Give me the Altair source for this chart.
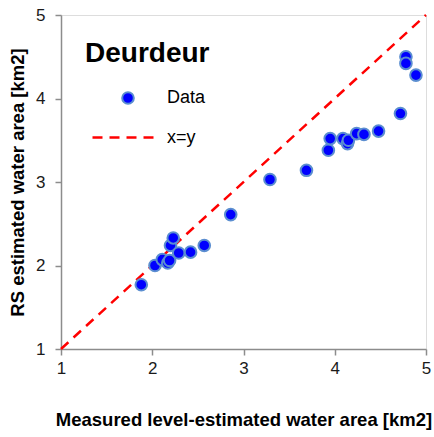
import altair as alt
import pandas as pd

measured = [1.88, 2.03, 2.11, 2.17, 2.19, 2.20, 2.23, 2.29, 2.42, 2.57, 2.86, 3.29,
            3.69, 3.93, 3.95, 4.09, 4.14, 4.15, 4.24, 4.32, 4.48, 4.72, 4.78, 4.78, 4.89]
rs = [1.77, 2.00, 2.07, 2.03, 2.06, 2.24, 2.33, 2.15, 2.16, 2.24, 2.61, 3.03,
      3.14, 3.38, 3.52, 3.52, 3.46, 3.50, 3.58, 3.57, 3.61, 3.82, 4.50, 4.42, 4.28]
line_x = [1, 5]
line_y = [1, 5]
title_text = ["Deurdeur"]

pts = pd.DataFrame({"x": measured, "y": rs, "series": "Data"})
ref = pd.DataFrame({"x": line_x, "y": line_y, "series": "x=y"})
ttl = pd.DataFrame({"t": title_text})

FONT = "Liberation Sans"

xscale = alt.Scale(domain=[1, 5], nice=False)
yscale = alt.Scale(domain=[1, 5], nice=False)

common = dict(values=[1, 2, 3, 4, 5], format="d", grid=False, tickSize=6,
              labelFontSize=17, labelFont=FONT, labelColor="#1a1a1a",
              labelFlush=False, labelOverlap=False,
              domainColor="#8c8c8c", domainWidth=1.5, tickColor="#8c8c8c", tickWidth=1.5,
              titleFont=FONT, titleFontSize=18.5, titleFontWeight="bold", titleColor="#000",
              titleBaseline="alphabetic")

xaxis = alt.Axis(labelPadding=5, title="Measured level-estimated water area [km2]",
                 titleY=76, **common)
yaxis = alt.Axis(labelPadding=10, title="RS estimated water area [km2]",
                 titleX=-38, **common)

line = alt.Chart(ref).mark_line(strokeWidth=2.5, color="#ff0000").encode(
    x=alt.X("x:Q", scale=xscale, axis=xaxis),
    y=alt.Y("y:Q", scale=yscale, axis=yaxis),
    strokeDash=alt.StrokeDash("series:N",
                              scale=alt.Scale(domain=["x=y"], range=[[10, 7]]),
                              legend=alt.Legend(title=None, orient="none", legendX=30, legendY=89,
                                                symbolType="stroke", symbolSize=4096,
                                                symbolStrokeColor="#ff0000", symbolStrokeWidth=2.5,
                                                labelFont=FONT, labelFontSize=18, labelColor="#000",
                                                labelOffset=9, padding=0, offset=0)),
)

points = alt.Chart(pts).mark_point(filled=True, size=135, opacity=1,
                                   stroke="#5b8ed0", strokeWidth=2).encode(
    x=alt.X("x:Q", scale=xscale),
    y=alt.Y("y:Q", scale=yscale),
    color=alt.Color("series:N",
                    scale=alt.Scale(domain=["Data"], range=["#0000ff"]),
                    legend=alt.Legend(title=None, orient="none", legendX=58, legendY=74,
                                      symbolType="circle", symbolSize=135,
                                      symbolFillColor="#0000ff", symbolStrokeColor="#5b8ed0",
                                      symbolStrokeWidth=2, symbolOpacity=1,
                                      labelFont=FONT, labelFontSize=18, labelColor="#000",
                                      labelOffset=30, padding=0, offset=0)),
)

title = alt.Chart(ttl).mark_text(font=FONT, fontSize=28, fontWeight="bold", color="#000",
                                 align="left", baseline="alphabetic").encode(
    text="t:N", x=alt.value(24), y=alt.value(47))

chart = alt.layer(line, points, title).resolve_legend(color="independent", strokeDash="independent").properties(
    width=365, height=334,
    autosize=alt.AutoSizeParams(type="none"),
    padding={"left": 61, "top": 15, "right": 8, "bottom": 88},
).configure_view(stroke="#8c8c8c", strokeWidth=1.5).configure(background="white")

chart.save("out.html", embed_options={"renderer": "svg", "actions": False})
